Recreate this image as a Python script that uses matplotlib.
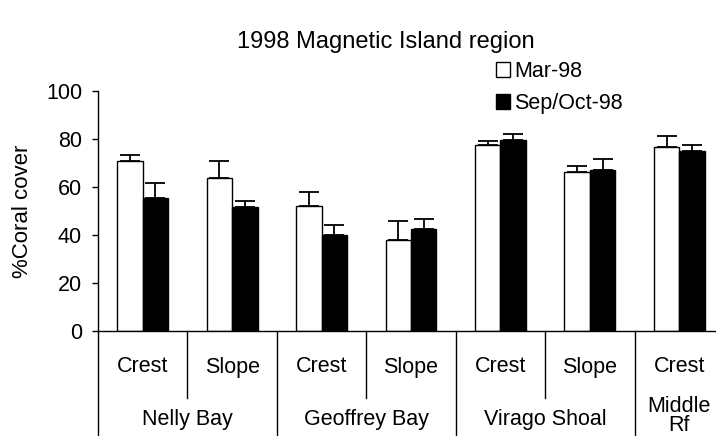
import matplotlib
matplotlib.use("Agg")
import matplotlib.pyplot as plt
import matplotlib.transforms as mtransforms
import numpy as np

plt.rcParams["font.family"] = ["Liberation Sans", "DejaVu Sans"]

# data
zones = ["Crest", "Slope", "Crest", "Slope", "Crest", "Slope", "Crest"]
sites = ["Nelly Bay", "Geoffrey Bay", "Virago Shoal", "Middle\nRf"]
site_span = [2, 2, 2, 1]
mar_vals = [71.0, 63.8, 52.0, 37.9, 77.4, 66.3, 76.7]
mar_err = [2.3, 7.0, 6.1, 7.9, 1.8, 2.6, 4.6]
sep_vals = [55.6, 51.5, 39.9, 42.5, 79.6, 67.2, 74.9]
sep_err = [6.2, 2.6, 4.4, 4.0, 2.6, 4.6, 2.8]

W, H = 716, 436
fig = plt.figure(figsize=(W / 100, H / 100), dpi=100)
ax = fig.add_axes([98 / W, 1 - 331 / H, 626 / W, 240 / H])

x = np.arange(len(zones)) + 0.5
bw = 0.285
ax.bar(x - bw / 2, mar_vals, bw, color="white", edgecolor="black", linewidth=1.0,
       yerr=[np.zeros(len(mar_err)), mar_err], capsize=7,
       error_kw=dict(elinewidth=1.3, capthick=1.3, ecolor="black"), label="Mar-98")
ax.bar(x + bw / 2, sep_vals, bw, color="black", edgecolor="black", linewidth=1.0,
       yerr=[np.zeros(len(sep_err)), sep_err], capsize=7,
       error_kw=dict(elinewidth=1.3, capthick=1.3, ecolor="black"), label="Sep/Oct-98")

ax.set_xlim(0, len(zones))
ax.set_ylim(0, 100)
ax.set_yticks(range(0, 101, 20))
ax.set_xticks([])
ax.tick_params(axis="y", direction="out", length=4.5, width=1, pad=7, labelsize=15.5)
for s in ["top", "right"]:
    ax.spines[s].set_visible(False)
ax.spines["left"].set_linewidth(1)
ax.spines["bottom"].set_linewidth(1)

ax.set_ylabel("%Coral cover", fontsize=16, labelpad=9)
fig.text(386 / W, 1 - 42 / H, "1998 Magnetic Island region", ha="center", va="center", fontsize=17)

# hierarchical x labels
trans = mtransforms.blended_transform_factory(ax.transData, ax.transAxes)
for i, z in enumerate(zones):
    ax.text(x[i], -0.15, z, transform=trans, ha="center", va="center", fontsize=15.5)
pos = 0
for name, span in zip(sites, site_span):
    ax.plot([pos, pos], [0, -0.5], transform=trans, color="black", lw=1, clip_on=False)
    if span > 1:
        ax.plot([pos + 1, pos + 1], [0, -0.28], transform=trans, color="black", lw=1, clip_on=False)
    ax.text(pos + span / 2, -0.37 if span > 1 else -0.355, name, transform=trans,
            ha="center", va="center", fontsize=15.5, linespacing=0.85)
    pos += span

ax.legend(loc="upper left", bbox_to_anchor=(496 / W, 1 - 61 / H), bbox_transform=fig.transFigure,
          frameon=False, fontsize=15.5, handlelength=0.65, handleheight=0.7,
          handletextpad=0.2, labelspacing=0.5, borderpad=0, borderaxespad=0)

fig.savefig("out.png", dpi=100)
